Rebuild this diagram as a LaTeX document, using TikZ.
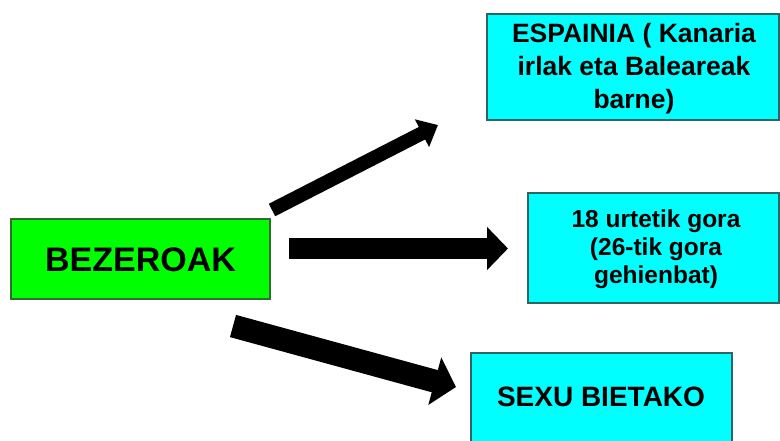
\documentclass[tikz,border=0pt]{standalone}
\usepackage{fontspec}
\setmainfont{Liberation Sans}
\usetikzlibrary{arrows.meta}
\definecolor{boxgreen}{HTML}{00FF00}
\definecolor{boxgreenline}{HTML}{2E6E2E}
\definecolor{boxcyan}{HTML}{00FFFF}
\definecolor{boxcyanline}{HTML}{2F6464}
\tikzset{
  greenbox/.style={draw=boxgreenline, fill=boxgreen, line width=1.5pt, inner sep=0pt},
  cyanbox/.style={draw=boxcyanline, fill=boxcyan, line width=1.5pt, inner sep=0pt},
  label/.style={font=\bfseries, align=center, inner sep=0pt},
  blockarrow/.style={draw=black, line cap=butt}
}
\begin{document}
\begin{tikzpicture}[x=1pt,y=-1pt]
\useasboundingbox (0,0) rectangle (780,440);
\clip (0,0) rectangle (780,440);
\fill[white] (0,0) rectangle (780,440);
% boxes
\draw[greenbox] (11,219) rectangle (270,299);
\node[label, font=\fontsize{34}{40}\selectfont\bfseries] (bez) at (140.5,260) {BEZEROAK};
\draw[cyanbox] (487,14) rectangle (779,120);
\node[label, font=\fontsize{26.5}{33}\selectfont\bfseries] (esp) at (634,69) {ESPAINIA ( Kanaria\\irlak eta Baleareak\\barne)};
\draw[cyanbox] (528,193) rectangle (779,303);
\node[label, font=\fontsize{24.5}{28}\selectfont\bfseries] (urte) at (656,249) {18 urtetik gora\\(26-tik gora\\gehienbat)};
\draw[cyanbox] (471,353) rectangle (732,450);
\node[label, font=\fontsize{28}{33}\selectfont\bfseries] (sexu) at (601,397) {SEXU BIETAKO};
% arrow end points
\coordinate (a1s) at (272,210);
\coordinate (a1e) at (438,125);
\coordinate (a2s) at (289,248.5);
\coordinate (a2e) at (508,248.5);
\coordinate (a3s) at (233,326);
\coordinate (a3e) at (456,387);
\draw[blockarrow, line width=14pt, -{Triangle[length=18pt,width=30pt]}] (a1s) -- (a1e);
\draw[blockarrow, line width=21pt, -{Triangle[length=21pt,width=42pt]}] (a2s) -- (a2e);
\draw[blockarrow, line width=23pt, -{Triangle[length=22pt,width=48pt]}] (a3s) -- (a3e);
\end{tikzpicture}
\end{document}
